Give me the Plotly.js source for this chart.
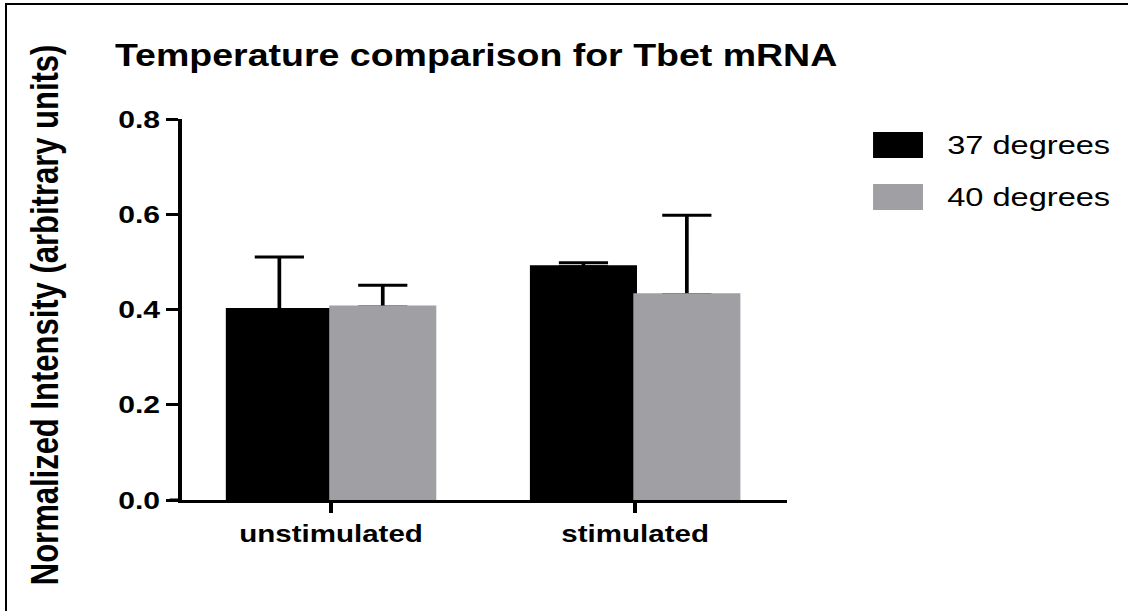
<!DOCTYPE html>
<html>
<head>
<meta charset="utf-8">
<script src="https://cdn.plot.ly/plotly-3.0.1.min.js"></script>
<style>
  html, body { margin: 0; padding: 0; background: #ffffff; overflow: hidden; }
  #wrap { position: absolute; left: 0; top: 0; width: 1128px; height: 611px; overflow: hidden; background: #ffffff; }
  /* the figure is laid out narrower and widened horizontally, as in the original export */
  #plot { position: absolute; left: 0; top: 0; width: 917px; height: 611px; transform: scaleX(1.23); transform-origin: 0 0; }
  .edge { position: absolute; background: #000; }
  #edgeLeft { left: 5px; top: 3px; width: 2px; height: 608px; }
  #edgeTop { left: 5px; top: 3px; width: 1123px; height: 2px; }
</style>
</head>
<body>
<div id="wrap">
  <div id="plot"></div>
  <div id="edgeLeft" class="edge"></div>
  <div id="edgeTop" class="edge"></div>
</div>
<script>
// Tbet mRNA, normalized intensity by stimulation and culture temperature
const categories = ['unstimulated', 'stimulated'];
const seriesNames = ['37 degrees', '40 degrees'];
const mean37 = [0.400, 0.490];
const mean40 = [0.405, 0.431];
const errUp37 = [0.110, 0.008];
const errUp40 = [0.046, 0.167];
const yTickVals = [0.0, 0.2, 0.4, 0.6, 0.8];
const yTickText = ['0.0', '0.2', '0.4', '0.6', '0.8'];

const colors = ['#000000', '#a0a0a4'];
const means = [mean37, mean40];
const errs = [errUp37, errUp40];

const FONT = 'Liberation Sans, Arial, Helvetica, sans-serif';

// Upper-only error bars go on their own traces, drawn first; the filled bars
// share their offset groups and are drawn on top, hiding the lower caps.
const errorTraces = seriesNames.map((name, i) => ({
  type: 'bar',
  name: name + ' SD',
  x: categories,
  y: means[i],
  offsetgroup: 'g' + i,
  marker: { color: 'rgba(0,0,0,0)', line: { width: 0 } },
  error_y: {
    type: 'data',
    symmetric: false,
    array: errs[i],
    arrayminus: errs[i].map(() => 0),
    color: '#000000',
    thickness: 3,
    width: 20
  },
  hoverinfo: 'skip'
}));
const barTraces = seriesNames.map((name, i) => ({
  type: 'bar',
  name: name,
  x: categories,
  y: means[i],
  offsetgroup: 'g' + i,
  marker: { color: colors[i], line: { color: colors[i], width: 3 } },
  hoverinfo: 'skip'
}));

// plot-area geometry in layout pixels, used to place the hand-drawn legend
const W = 917, H = 611;
const M = { l: 148, r: 277, t: 119, b: 110.5 };
const pw = W - M.l - M.r, ph = H - M.t - M.b;
const px = (x) => (x - M.l) / pw;
const py = (y) => (H - M.b - y) / ph;

const shapes = [
  // x axis line continues under the y-axis tick length
  { type: 'line', xref: 'paper', yref: 'y', x0: px(138), x1: 0, y0: 0, y1: 0,
    line: { color: '#000', width: 3 } }
];
const annotations = [
  { text: '<b>Normalized Intensity (arbitrary units)</b>', xref: 'paper', yref: 'paper',
    x: px(36.6), y: py(315), xanchor: 'center', yanchor: 'middle', textangle: -90,
    showarrow: false, font: { family: FONT, size: 31, color: '#000' } }
];
seriesNames.forEach((name, i) => {
  const top = 132 + i * 52;
  shapes.push({ type: 'rect', xref: 'paper', yref: 'paper',
    x0: px(709.8), x1: px(750.4), y0: py(top + 26), y1: py(top),
    fillcolor: colors[i], line: { width: 0 } });
  annotations.push({ text: name, xref: 'paper', yref: 'paper',
    x: px(767.5), y: py(top + 13), xanchor: 'left', yanchor: 'middle',
    showarrow: false, font: { family: FONT, size: 26.5, color: '#000' } });
});

const layout = {
  width: W, height: H,
  margin: M,
  paper_bgcolor: 'rgba(0,0,0,0)',
  plot_bgcolor: 'rgba(0,0,0,0)',
  showlegend: false,
  barmode: 'group',
  bargap: 0.32,
  bargroupgap: 0,
  title: {
    text: '<b>Temperature comparison for Tbet mRNA</b>',
    xref: 'container', yref: 'container',
    x: 93.5 / W, xanchor: 'left',
    y: 1 - 55 / H, yanchor: 'middle',
    font: { family: FONT, size: 30.5, color: '#000' }
  },
  xaxis: {
    type: 'category',
    range: [-0.49, 1.5],
    showline: true, linecolor: '#000', linewidth: 3,
    ticks: 'outside', ticklen: 10, tickwidth: 3, tickcolor: '#000',
    showgrid: false, zeroline: false,
    tickfont: { family: FONT, size: 24, color: '#000', weight: 'bold' },
    fixedrange: true
  },
  yaxis: {
    range: [0, 0.8],
    tickvals: yTickVals, ticktext: yTickText,
    showline: true, linecolor: '#000', linewidth: 3,
    ticks: 'outside', ticklen: 10, tickwidth: 3, tickcolor: '#000',
    showgrid: false, zeroline: false,
    tickfont: { family: FONT, size: 24.5, color: '#000', weight: 'bold' },
    fixedrange: true
  },
  shapes: shapes,
  annotations: annotations
};

Plotly.newPlot('plot', errorTraces.concat(barTraces), layout, { staticPlot: true, displayModeBar: false });
</script>
</body>
</html>
